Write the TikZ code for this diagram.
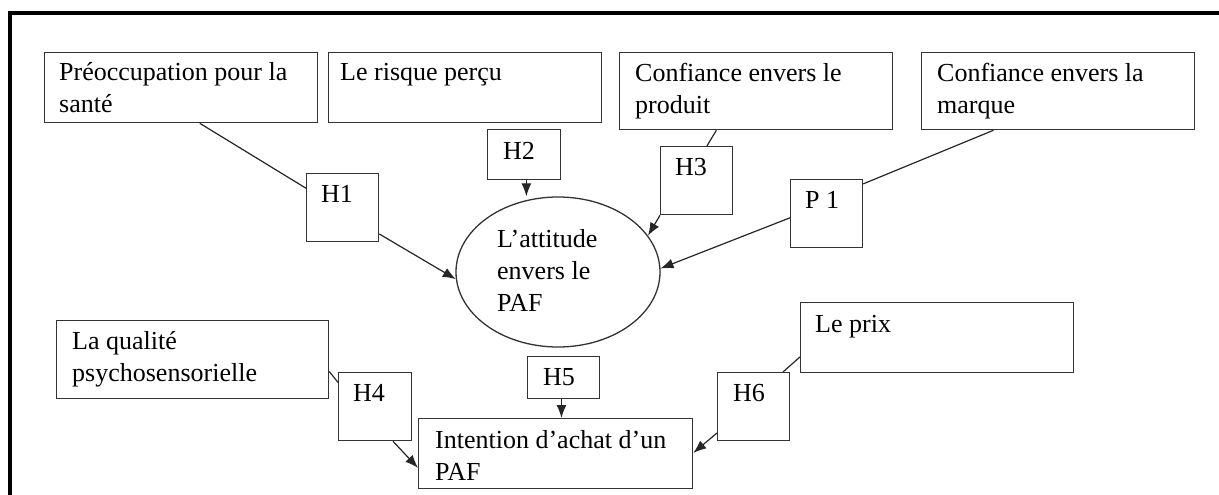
\documentclass[tikz,border=0pt]{standalone}
\usepackage{fontspec}
\setmainfont{Liberation Serif}
\usetikzlibrary{arrows.meta,calc,shapes.geometric}
\begin{document}
\begin{tikzpicture}[x=1pt,y=-1pt,
  box/.style={draw=black!80, line width=1.3pt, rectangle, inner sep=0pt, anchor=north west},
  txt/.style={anchor=north west, inner sep=0pt, align=left, font=\fontsize{26}{32}\selectfont},
  link/.style={draw=black!85, line width=1.2pt},
  arr/.style={link, -{Latex[length=13pt,width=10pt]}}]
\useasboundingbox[fill=white] (0,0) rectangle (1219,495);
% outer frame (left and top)
\draw[line width=4pt] (10,495) -- (10,13) -- (1219,13);
% boxes
\node[box, minimum width=273pt, minimum height=70pt] (b1) at (44,52) {};
\node[box, minimum width=273pt, minimum height=70pt] (b2) at (328,52) {};
\node[box, minimum width=273pt, minimum height=77pt] (b3) at (619,52) {};
\node[box, minimum width=273pt, minimum height=77pt] (b4) at (921,52) {};
\node[box, minimum width=72pt, minimum height=68pt] (h1) at (306,173) {};
\node[box, minimum width=73pt, minimum height=50pt] (h2) at (487,129) {};
\node[box, minimum width=72pt, minimum height=68pt] (h3) at (660,146) {};
\node[box, minimum width=72pt, minimum height=68pt] (p1) at (790,179) {};
\node[draw=black!80, line width=1.3pt, ellipse, minimum width=204pt, minimum height=150pt, inner sep=0pt] (ell) at (558,272) {};
\node[box, minimum width=272pt, minimum height=78pt] (bq) at (56,320) {};
\node[box, minimum width=73pt, minimum height=68pt] (h4) at (338,372) {};
\node[box, minimum width=72pt, minimum height=42pt] (h5) at (527,356) {};
\node[box, minimum width=274pt, minimum height=70pt] (bi) at (418,418) {};
\node[box, minimum width=72pt, minimum height=68pt] (h6) at (717,372) {};
\node[box, minimum width=273pt, minimum height=70pt] (bp) at (800,302) {};
% texts
\node[txt] (t1) at (59,60) {\rule{0pt}{20pt}Préoccupation pour la\\santé};
\node[txt] (t2) at (340,60) {\rule{0pt}{20pt}Le risque perçu};
\node[txt] (t3) at (635,61) {\rule{0pt}{20pt}Confiance envers le\\produit};
\node[txt] (t4) at (937,61) {\rule{0pt}{20pt}Confiance envers la\\marque};
\node[txt] (th1) at (321,182) {\rule{0pt}{20pt}H1};
\node[txt] (th2) at (503,139) {\rule{0pt}{20pt}H2};
\node[txt] (th3) at (675,155) {\rule{0pt}{20pt}H3};
\node[txt] (tp1) at (805,188) {\rule{0pt}{20pt}P 1};
\node[txt] (te) at (497,227) {\rule{0pt}{20pt}L’attitude\\envers le\\PAF};
\node[txt] (tq) at (72,329) {\rule{0pt}{20pt}La qualité\\psychosensorielle};
\node[txt] (th4) at (353,381) {\rule{0pt}{20pt}H4};
\node[txt] (th5) at (543,365) {\rule{0pt}{20pt}H5};
\node[txt] (ti) at (435,428) {\rule{0pt}{20pt}Intention d’achat d’un\\PAF};
\node[txt] (th6) at (733,381) {\rule{0pt}{20pt}H6};
\node[txt] (tp) at (815,312) {\rule{0pt}{20pt}Le prix};
% connector end points on edges
\coordinate (h2s) at ($(h2.south west)!.53!(h2.south east)$);
\coordinate (h5s) at ($(h5.south west)!.47!(h5.south east)$);
% connectors
\draw[link] ($(b1.south west)!.568!(b1.south east)$) -- ($(h1.north west)!.22!(h1.south west)$);
\draw[arr] ($(h1.north east)!.88!(h1.south east)$) -- (ell.184);
\draw[arr] (h2s) -- (h2s |- ell.north);
\draw[link] ($(b3.south west)!.355!(b3.south east)$) -- ($(h3.north west)!.64!(h3.north east)$);
\draw[arr] (h3.south west) -- (ell.22);
\draw[link] ($(b4.south west)!.264!(b4.south east)$) -- ($(p1.north east)!.07!(p1.south east)$);
\draw[arr] ($(p1.north west)!.56!(p1.south west)$) -- (ell.2);
\draw[link] ($(bq.north east)!.65!(bq.south east)$) -- ($(h4.north west)!.15!(h4.south west)$);
\draw[arr] ($(h4.south west)!.74!(h4.south east)$) -- ($(bi.north west)!.7!(bi.south west)$);
\draw[arr] (h5s) -- (h5s |- bi.north);
\draw[link] ($(bp.north west)!.77!(bp.south west)$) -- ($(h6.north west)!.9!(h6.north east)$);
\draw[arr] ($(h6.north west)!.88!(h6.south west)$) -- ($(bi.north east)!.49!(bi.south east)$);
\end{tikzpicture}
\end{document}
